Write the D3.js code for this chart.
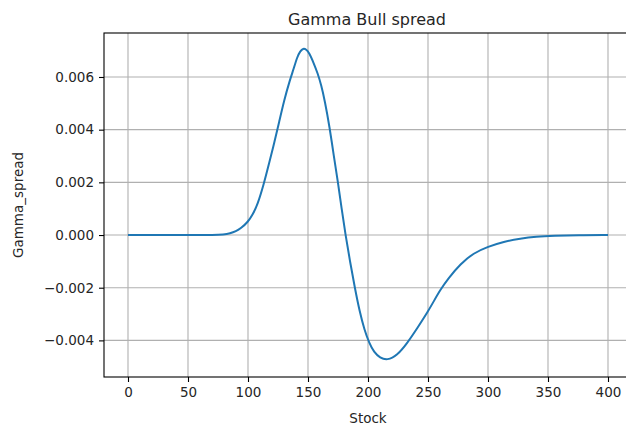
<!DOCTYPE html>
<html>
<head>
	<title>gamma-bull-spread</title>
	<meta charset="utf-8">
	<style type="text/css">
		body { margin: 0; background: #fff; }
		text { font-family: "DejaVu Sans", sans-serif; fill: #262626; }
	</style>
</head>
<body>

<script type="text/javascript" src="https://cdn.jsdelivr.net/npm/d3@7"></script>
<script type="text/javascript">
	/*=========DATA=========*/
	var stock = [0, 20, 40, 60, 70, 80, 85, 90, 94, 100, 104, 108, 113, 118, 122, 126, 130, 135, 138,
		141, 143.5, 146, 148.5, 151, 155, 158, 161, 164, 168, 171.5, 175, 178, 181.3, 185, 189, 193,
		197, 201, 205, 210, 216, 224.3, 232.6, 241, 250, 255, 260, 267, 277, 288, 300, 313, 327, 340,
		355, 375, 400];
	var gamma = [0, 0, 0, 0, 0, 0.00002, 0.00006, 0.00014, 0.00025, 0.0005, 0.00078, 0.00116, 0.0019,
		0.0028, 0.00352, 0.0043, 0.0051, 0.0059, 0.0063,
		0.00676, 0.00698, 0.00709, 0.00705, 0.00692, 0.0065, 0.00615, 0.0057, 0.0051, 0.0041, 0.0030,
		0.0020, 0.0010, 0, -0.0010, -0.0020, -0.0029,
		-0.0036, -0.0041, -0.00445, -0.00466, -0.00476, -0.00457, -0.00411, -0.00354, -0.0029,
		-0.0025, -0.0021, -0.00164, -0.0011, -0.00068, -0.00044, -0.00025, -0.00013, -0.00006,
		-0.00003, -0.00001, 0];
	var xTicks = [0, 50, 100, 150, 200, 250, 300, 350, 400];
	var yTicks = [-0.004, -0.002, 0, 0.002, 0.004, 0.006];

	/*=====SIZE SVG======*/
	var w = 626;
	var h = 427;
	var svg = d3.select("body").append("svg").attr("width", w).attr("height", h);

	var pL = 104, pR = 632, pT = 33, pB = 377;

	/*=========SCALE============*/
	var x = d3.scaleLinear().domain([-20, 420]).range([pL, pR]);
	var y = d3.scaleLinear().domain([-0.00539, 0.00767]).range([pB, pT]);

	// grid
	svg.append("g").selectAll("line").data(xTicks).enter().append("line")
		.attr("x1", d => x(d)).attr("x2", d => x(d))
		.attr("y1", pT).attr("y2", pB)
		.attr("stroke", "#b0b0b0").attr("stroke-width", 1.1);
	svg.append("g").selectAll("line").data(yTicks).enter().append("line")
		.attr("x1", pL).attr("x2", pR)
		.attr("y1", d => y(d)).attr("y2", d => y(d))
		.attr("stroke", "#b0b0b0").attr("stroke-width", 1.1);

	// 曲线
	var line = d3.line()
		.x(function(d, i) { return x(stock[i]); })
		.y(function(d) { return y(d); })
		.curve(d3.curveBasis);
	svg.append("path")
		.attr("d", line(gamma))
		.attr("fill", "none")
		.attr("stroke", "#1f77b4")
		.attr("stroke-width", 2);

	// frame
	svg.append("rect")
		.attr("x", pL).attr("y", pT)
		.attr("width", pR - pL).attr("height", pB - pT)
		.attr("fill", "none").attr("stroke", "#000").attr("stroke-width", 1.1);

	/*=========AXES============*/
	var fmt = function(d) { return d3.format(".3f")(d).replace("-", "\u2212"); };
	var xAxis = d3.axisBottom(x).tickValues(xTicks).tickSize(5).tickPadding(5);
	var yAxis = d3.axisLeft(y).tickValues(yTicks).tickSize(5).tickPadding(5).tickFormat(fmt);

	var gx = svg.append("g").attr("transform", "translate(0," + pB + ")").call(xAxis);
	var gy = svg.append("g").attr("transform", "translate(" + pL + ",0)").call(yAxis);
	[gx, gy].forEach(function(g) {
		g.select(".domain").remove();
		g.selectAll("line").attr("stroke", "#000").attr("stroke-width", 1.1);
		g.selectAll("text").style("font-family", "DejaVu Sans").style("font-size", "13.5px").attr("fill", "#262626");
	});

	// 文字
	svg.append("text")
		.attr("x", (pL + pR) / 2 - 1).attr("y", 25)
		.attr("text-anchor", "middle")
		.style("font-size", "16px")
		.text("Gamma Bull spread");
	svg.append("text")
		.attr("x", (pL + pR) / 2).attr("y", 423)
		.attr("text-anchor", "middle")
		.style("font-size", "13.5px")
		.text("Stock");
	svg.append("text")
		.attr("transform", "translate(23," + (pT + pB) / 2 + ") rotate(-90)")
		.attr("text-anchor", "middle")
		.style("font-size", "13.5px")
		.text("Gamma_spread");
</script>
</body>
</html>
